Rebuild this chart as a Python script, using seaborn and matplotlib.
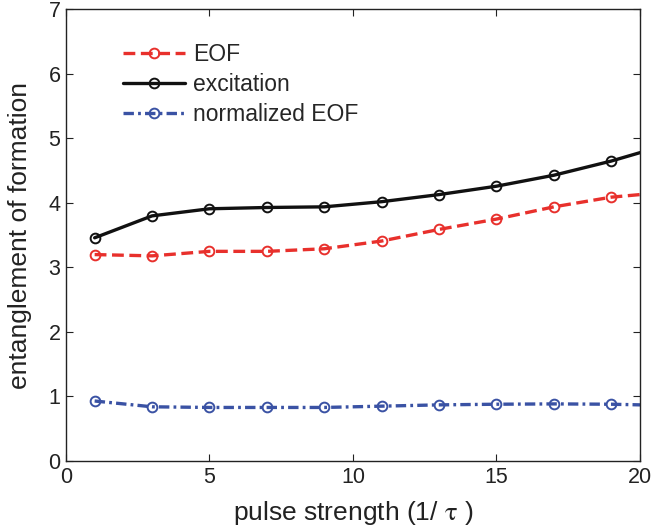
import numpy as np
import pandas as pd
import matplotlib
matplotlib.use("Agg")
import matplotlib.pyplot as plt
import seaborn as sns

# pulse strength values (the last point sits beyond the axis and is clipped)
pulse = [1, 3, 5, 7, 9, 11, 13, 15, 17, 19, 21]
eof = [3.20, 3.18, 3.25, 3.25, 3.29, 3.41, 3.59, 3.75, 3.94, 4.09, 4.17]
excitation = [3.46, 3.80, 3.91, 3.93, 3.94, 4.02, 4.13, 4.26, 4.43, 4.65, 4.91]
norm_eof = [0.93, 0.84, 0.83, 0.83, 0.83, 0.85, 0.87, 0.88, 0.885, 0.88, 0.86]

series_names = ["EOF", "excitation", "normalized EOF"]
xticks = [0, 5, 10, 15, 20]
yticks = [0, 1, 2, 3, 4, 5, 6, 7]

sns.set_style("ticks")
plt.rcParams['font.family'] = ['Liberation Sans', 'DejaVu Sans']
plt.rcParams['mathtext.fontset'] = 'stix'
plt.rcParams['lines.scale_dashes'] = False

fig = plt.figure(figsize=(6.53, 5.26), dpi=100)
ax = fig.add_axes([0.101, 0.1236, 0.879, 0.8584])

# dash patterns in points, roughly matching the matlab look
styles = {
    "EOF": dict(color="#e8302c", linestyle=(0, (8.5, 4.0))),
    "excitation": dict(color="#111111", linestyle="-"),
    "normalized EOF": dict(color="#3a52a4", linestyle=(0, (7.5, 3.0, 2.0, 3.0))),
}

for name, vals in zip(series_names, [eof, excitation, norm_eof]):
    df = pd.DataFrame({"pulse": pulse, "value": vals})
    st = styles[name]
    sns.lineplot(data=df, x="pulse", y="value", ax=ax, label=name,
                 color=st["color"], linewidth=2.4,
                 marker="o", markersize=7, markerfacecolor="none",
                 markeredgecolor=st["color"], markeredgewidth=1.4)
    ax.lines[-1].set_linestyle(st["linestyle"])

ax.set_xlim(0, 20)
ax.set_ylim(0, 7)
ax.set_xticks(xticks)
ax.set_yticks(yticks)
ax.tick_params(direction="in", top=True, right=True, length=5, width=0.8,
               labelsize=15.5, colors="#222222", pad=4)
for sp in ax.spines.values():
    sp.set_visible(True)
    sp.set_linewidth(1.0)
    sp.set_color("#222222")

ax.set_xlabel(r"pulse strength (1/ $\mathrm{\tau}$ )", fontsize=19, color="#222222", labelpad=8)
ax.set_ylabel("entanglement of formation", fontsize=19, color="#222222", labelpad=12)

leg = ax.legend(loc="upper left", bbox_to_anchor=(0.063, 0.971), frameon=False,
                fontsize=16.5, handlelength=2.7, handletextpad=0.35, labelspacing=0.3)
for h, name in zip(leg.get_lines(), series_names):
    h.set_linestyle(styles[name]["linestyle"])

fig.savefig("out.png", dpi=100)
